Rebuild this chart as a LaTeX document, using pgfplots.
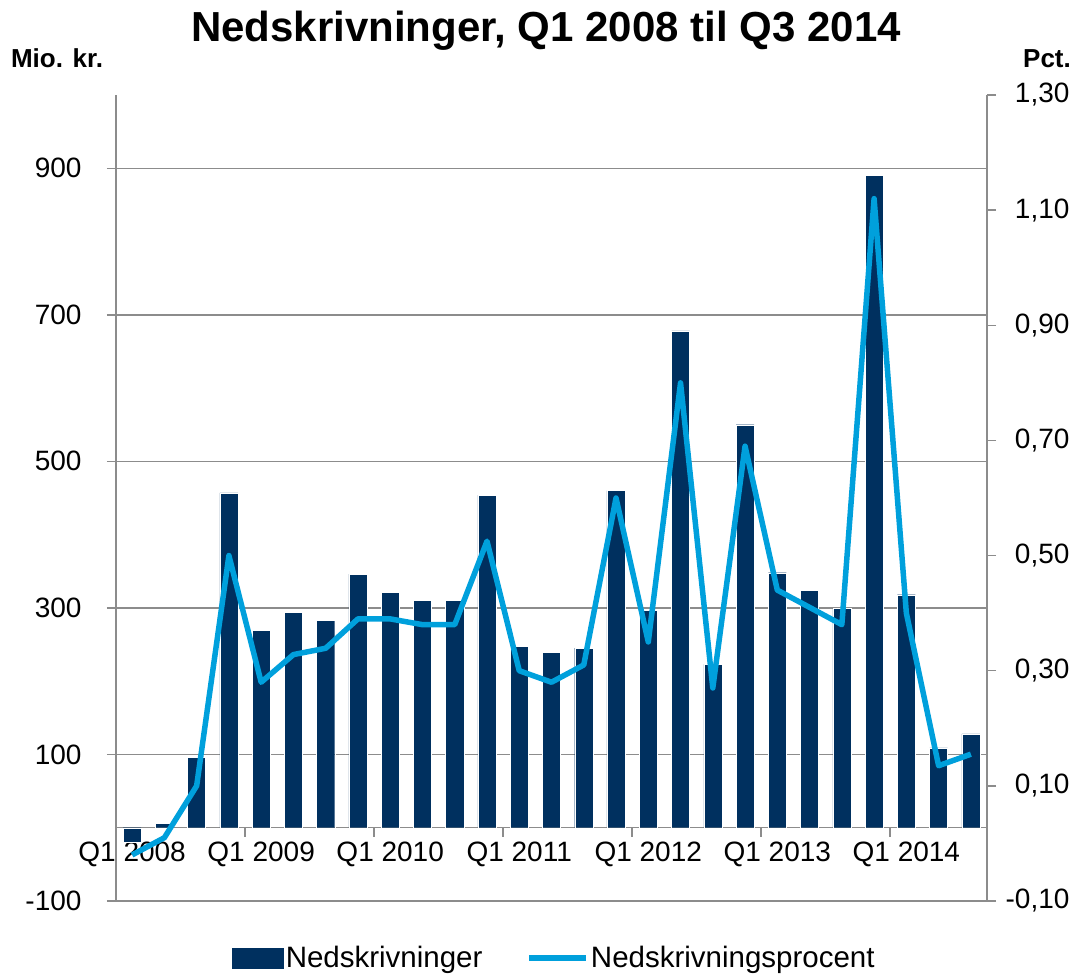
\documentclass[border=0pt]{standalone}
\usepackage{pgfplots}
\pgfplotsset{compat=1.18}
\usepackage{fontspec}
\setmainfont{Liberation Sans}
\definecolor{barblue}{HTML}{00305F}
\definecolor{linecyan}{HTML}{00A0DC}
\definecolor{gridgray}{HTML}{8C8C8C}

\pgfplotsset{
  nd base/.style={
    scale only axis, width=871bp, height=806bp,
    xmin=-0.5, xmax=26.5,
    clip=false,
    tick label style={font=\fontsize{28bp}{32bp}\selectfont},
    /pgf/number format/assume math mode=true,
    tick align=outside,
    major tick length=9bp,
    every tick/.style={gridgray, line width=1.5bp},
    axis line style={-, gridgray, line width=1.5bp},
  }
}

\begin{document}
\begin{tikzpicture}
% --- bars, left axis (Mio. kr.) ---
\begin{axis}[nd base,
  ymin=-100, ymax=1000,
  axis y line*=left,
  axis x line*=middle,
  ytick={-100,100,300,500,700,900},
  yticklabel style={xshift=-22bp},
  ymajorgrids, grid style={gridgray, line width=1.5bp},
  xtick={3.5,7.5,11.5,15.5,19.5,23.5}, xticklabels={},
  extra x ticks={0,4,8,12,16,20,24},
  extra x tick labels={Q1 2008,Q1 2009,Q1 2010,Q1 2011,Q1 2012,Q1 2013,Q1 2014},
  extra x tick style={major tick length=0pt, xticklabel style={yshift=-11bp}},
]
\addplot[ybar, bar width=0.56, fill=barblue, draw=white, line width=0.4bp]
coordinates {
  (0,-20) (1,6) (2,96) (3,457)
  (4,269) (5,294) (6,283) (7,346)
  (8,321) (9,310) (10,310) (11,454)
  (12,248) (13,239) (14,245) (15,460)
  (16,297) (17,678) (18,223) (19,550)
  (20,348) (21,324) (22,299) (23,890)
  (24,318) (25,109) (26,128)
};
\end{axis}
% --- line, right axis (Pct.) ---
\begin{axis}[nd base,
  ymin=-0.1, ymax=1.3,
  axis y line*=right,
  axis x line=none,
  ytick={-0.1,0.1,0.3,0.5,0.7,0.9,1.1,1.3},
  yticklabel style={anchor=east, xshift=77bp, /pgf/number format/fixed, /pgf/number format/fixed zerofill,
    /pgf/number format/precision=2, /pgf/number format/use comma},
  legend columns=2,
  legend cell align=left,
  legend style={at={(0.5,0)}, anchor=center, xshift=3bp, yshift=-57bp, draw=none, fill=none,
    font=\fontsize{29.5bp}{33bp}\selectfont,
    /tikz/every even column/.append style={column sep=42bp}},
]
\addlegendimage{legend image code/.code={\fill[barblue] (0bp,-10bp) rectangle (51bp,10bp);}}
\addlegendentry{Nedskrivninger}
\addplot[linecyan, line width=5.5bp, line join=round, mark=none,
  legend image code/.code={\draw[linecyan, line width=5.5bp] (0bp,0bp) -- (57bp,0bp);}]
coordinates {
  (0,-0.02) (1,0.01) (2,0.10) (3,0.50)
  (4,0.28) (5,0.328) (6,0.339) (7,0.39)
  (8,0.39) (9,0.38) (10,0.38) (11,0.525)
  (12,0.30) (13,0.28) (14,0.31) (15,0.60)
  (16,0.35) (17,0.80) (18,0.27) (19,0.69)
  (20,0.44) (21,0.41) (22,0.38) (23,1.12)
  (24,0.40) (25,0.135) (26,0.155)
};
\addlegendentry{Nedskrivningsprocent}
\end{axis}
\node[anchor=base, font=\bfseries\fontsize{42bp}{46bp}\selectfont] at (430bp,859bp)
  {Nedskrivninger, Q1 2008 til Q3 2014};
\node[anchor=base, font=\bfseries\fontsize{26bp}{30bp}\selectfont] at (-59bp,833bp) {Mio. kr.};
\node[anchor=base, font=\bfseries\fontsize{26bp}{30bp}\selectfont] at (931bp,833bp) {Pct.};
\pgfresetboundingbox
\path[use as bounding box] (-116bp,-73bp) rectangle (964bp,901bp);
\end{tikzpicture}
\end{document}
